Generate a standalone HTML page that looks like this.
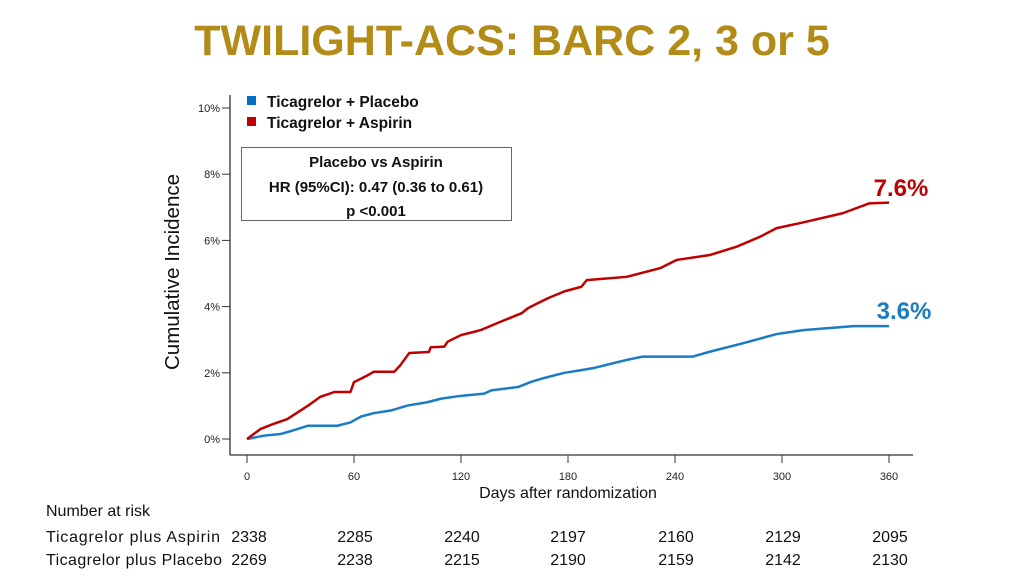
<!DOCTYPE html>
<html><head><meta charset="utf-8"><style>
body{margin:0;background:#fff;width:1024px;height:576px;overflow:hidden;font-family:"Liberation Sans",sans-serif}
svg{position:absolute;left:0;top:0}
</style></head><body>
<svg width="1024" height="576" id="chart">
<text x="512" y="55" text-anchor="middle" font-size="43" font-weight="bold" fill="#b38b17">TWILIGHT-ACS: BARC 2, 3 or 5</text>
<g id="axes"></g>
<g id="series"></g>
<rect x="247" y="96" width="9" height="9" fill="#0070c0"/>
<text x="267" y="107" font-size="15.5" font-weight="bold" fill="#111">Ticagrelor + Placebo</text>
<rect x="247" y="117" width="9" height="9" fill="#c00000"/>
<text x="267" y="128" font-size="15.5" font-weight="bold" fill="#111">Ticagrelor + Aspirin</text>
<g>
<rect x="241.5" y="147.5" width="270" height="73" fill="#fff" stroke="#666" stroke-width="1"/>
<text x="376" y="167" text-anchor="middle" font-size="15" font-weight="bold" fill="#111">Placebo vs Aspirin</text>
<text x="376" y="192" text-anchor="middle" font-size="15" font-weight="bold" fill="#111">HR (95%CI): 0.47 (0.36 to 0.61)</text>
<text x="376" y="216" text-anchor="middle" font-size="15" font-weight="bold" fill="#111">p &lt;0.001</text>
</g>
<text x="901" y="196" text-anchor="middle" font-size="24" font-weight="bold" fill="#c00000">7.6%</text>
<text x="904" y="319" text-anchor="middle" font-size="24" font-weight="bold" fill="#1a7cc5">3.6%</text>
<text transform="translate(179,272) rotate(-90)" text-anchor="middle" font-size="20.5" fill="#111">Cumulative Incidence</text>
<text x="568" y="498" text-anchor="middle" font-size="16" fill="#111">Days after randomization</text>
<g font-size="16" fill="#111">
<text x="46" y="516">Number at risk</text>
<text x="46" y="542" textLength="174">Ticagrelor plus Aspirin</text>
<text x="46" y="565" textLength="176">Ticagrelor plus Placebo</text>
<g id="riskcells"></g>
</g>
</svg>
<script>
const xTicks=[0,60,120,180,240,300,360];
const yTicks=[0,2,4,6,8,10];
const aspDays=[0,7.5,15,22.5,30,35.6,41,49,58,60,67.5,71,82.5,86,91,102,103,110.6,112.5,120,127.5,131,142.5,154,157.5,163,169,178,187.5,190.5,213,231.6,241,259.7,274.6,287.7,297,310,334,349,360];
const aspVals=[0,0.3,0.46,0.6,0.86,1.06,1.27,1.42,1.42,1.72,1.92,2.03,2.03,2.23,2.6,2.63,2.77,2.79,2.94,3.14,3.24,3.29,3.55,3.8,3.95,4.1,4.26,4.46,4.6,4.8,4.9,5.16,5.41,5.56,5.81,6.11,6.37,6.52,6.82,7.12,7.14];
const plaDays=[0,9.4,18.75,24,34,50.6,58,64,71,80.6,90,101,109,118,133,137,152,159,165,178,187.5,194,213,222,250,259.7,278,297,312,340,360];
const plaVals=[0,0.1,0.15,0.23,0.4,0.4,0.5,0.68,0.78,0.86,1.01,1.11,1.22,1.29,1.37,1.47,1.57,1.72,1.82,2.0,2.08,2.14,2.39,2.49,2.49,2.64,2.89,3.17,3.29,3.41,3.41];
const riskAsp=[2338,2285,2240,2197,2160,2129,2095];
const riskPla=[2269,2238,2215,2190,2159,2142,2130];
const NS="http://www.w3.org/2000/svg";
const X=d=>247+d*(889-247)/360;
const Y=v=>439-v*(439-108)/10;
function mk(t,a,p){const e=document.createElementNS(NS,t);for(const k in a)e.setAttribute(k,a[k]);p.appendChild(e);return e;}
const ax=document.getElementById('axes');
const yl=mk('line',{x1:230,y1:95,x2:230,y2:455,stroke:'#333','stroke-width':1.3},ax);


const xl=mk('line',{x1:230,y1:455,x2:913,y2:455,stroke:'#333','stroke-width':1.3},ax);


yTicks.forEach(v=>{
 mk('line',{x1:222,y1:Y(v),x2:230,y2:Y(v),stroke:'#333'},ax);
 const t=mk('text',{x:220,y:Y(v)+4,'text-anchor':'end','font-size':11,fill:'#222'},ax);
 t.textContent=v+'%';
 
 
});
xTicks.forEach(d=>{
 mk('line',{x1:X(d),y1:455,x2:X(d),y2:463,stroke:'#333'},ax);
 const t=mk('text',{x:X(d),y:480,'text-anchor':'middle','font-size':11,fill:'#222'},ax);
 t.textContent=d;
 
 
});
function path(days,vals){let d='M'+X(days[0])+','+Y(vals[0]);for(let i=1;i<days.length;i++){d+=' L'+X(days[i])+','+Y(vals[i]);}return d;}
const sg=document.getElementById('series');
const pl=mk('path',{d:path(plaDays,plaVals),fill:'none',stroke:'#1a7cc5','stroke-width':2.5,'stroke-linejoin':'round'},sg);


const as=mk('path',{d:path(aspDays,aspVals),fill:'none',stroke:'#c00000','stroke-width':2.5,'stroke-linejoin':'round'},sg);


const rc=document.getElementById('riskcells');
const riskX=[249,355,462,568,676,783,890];
xTicks.forEach((d,i)=>{
 const a=mk('text',{x:riskX[i],y:542,'text-anchor':'middle'},rc);
 a.textContent=riskAsp[i];
 
 
 const b=mk('text',{x:riskX[i],y:565,'text-anchor':'middle'},rc);
 b.textContent=riskPla[i];
 
 
});
</script>
</body></html>
